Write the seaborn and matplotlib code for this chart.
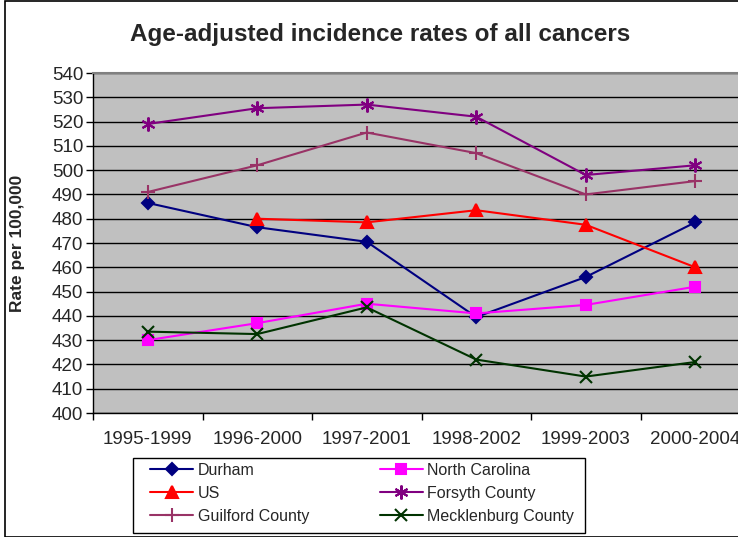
import numpy as np
import pandas as pd
import matplotlib
matplotlib.use("Agg")
import matplotlib.pyplot as plt
import seaborn as sns
from matplotlib.patches import Rectangle

# Data
periods = ["1995-1999", "1996-2000", "1997-2001", "1998-2002", "1999-2003", "2000-2004"]
durham = [486.5, 476.5, 470.5, 439.5, 456, 478.5]
north_carolina = [430, 437, 445, 441, 444.5, 452]
us = [np.nan, 480, 478.5, 483.5, 477.5, 460]
forsyth = [519, 525.5, 527, 522, 498, 502]
guilford = [491, 502, 515.5, 507, 490, 495.5]
mecklenburg = [433.5, 432.5, 443.5, 422, 415, 421]

sns.set_theme(style="white")
plt.rcParams['font.family'] = ['Liberation Sans', 'DejaVu Sans']

fig = plt.figure(figsize=(7.38, 5.37), dpi=100)
ax = fig.add_axes([93 / 738, 1 - 413 / 537, 657 / 738, 340 / 537])
ax.set_facecolor("#C0C0C0")

series = [
    ("Durham", durham, "#000080", "D", 6.5, 1.5),
    ("North Carolina", north_carolina, "#FF00FF", "s", 7.5, 1.5),
    ("US", us, "#FF0000", "^", 8.5, 1.5),
    ("Forsyth County", forsyth, "#800080", (6, 2, 0), 10, 1.5),
    ("Guilford County", guilford, "#993366", "+", 10, 1.5),
    ("Mecklenburg County", mecklenburg, "#003300", "x", 8, 1.5),
]

pos = np.arange(len(periods))
for name, vals, color, mk, ms, lw in series:
    df = pd.DataFrame({"x": pos, "y": vals}).dropna()
    sns.lineplot(data=df, x="x", y="y", ax=ax, color=color, marker=mk,
                 markersize=ms, linewidth=lw, markeredgecolor=color,
                 markeredgewidth=1.5, label=name, sort=False)

h, l = ax.get_legend_handles_labels()
ax.get_legend().remove()

ax.set_xlim(-0.5, 5.5)
ax.set_ylim(400, 540)
ax.set_yticks(np.arange(400, 541, 10))
ax.yaxis.grid(True, color="black", linewidth=1)
ax.set_axisbelow(True)

ax.set_xticks(pos)
ax.set_xticklabels(periods, fontsize=13.5)
ax.set_xticks(np.arange(-0.5, 5.6, 1), minor=True)
ax.tick_params(axis="x", which="major", length=0, pad=13)
ax.tick_params(axis="x", which="minor", length=5, width=1, color="black", direction="out", bottom=True)
ax.tick_params(axis="y", length=5, width=1, color="black", direction="out", left=True, labelsize=13.5, pad=2)

for s in ["left", "bottom"]:
    ax.spines[s].set_color("black")
    ax.spines[s].set_linewidth(1)
ax.spines["top"].set_color("#808080")
ax.spines["top"].set_linewidth(1.5)
ax.spines["right"].set_visible(False)

ax.set_xlabel("")
ax.set_ylabel("Rate per 100,000", fontsize=12.5, fontweight="bold")
ax.yaxis.set_label_coords((25 - 93) / 657, 0.5)

fig.text(380 / 738, 1 - 35 / 537, "Age-adjusted incidence rates of all cancers",
         ha="center", va="center", fontsize=17.5, fontweight="bold")

# legend: row-wise order for two columns, frame drawn separately
order = [0, 2, 4, 1, 3, 5]
leg = fig.legend([h[i] for i in order], [l[i] for i in order], ncol=2,
                 loc="upper left", bbox_to_anchor=(150 / 738, 1 - 463 / 537),
                 frameon=False, fontsize=11.5, handlelength=2.7,
                 columnspacing=4.4, labelspacing=0.5, borderpad=0,
                 borderaxespad=0, handletextpad=0.3)

fig.patches.append(Rectangle((133 / 738, 1 - 533 / 537), 452 / 738, 75 / 537,
                             transform=fig.transFigure, fill=False,
                             edgecolor="black", linewidth=1))
fig.patches.append(Rectangle((5 / 738, 0), 1, 1 - 1 / 537, transform=fig.transFigure,
                             fill=False, edgecolor="black", linewidth=1.2))

fig.savefig("out.png", dpi=100)
